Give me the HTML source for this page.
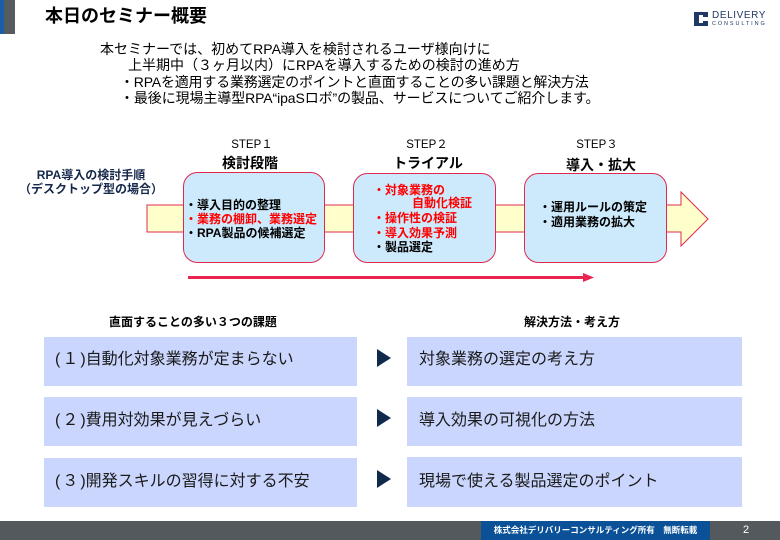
<!DOCTYPE html>
<html lang="ja">
<head>
<meta charset="utf-8">
<style>
  html,body{margin:0;padding:0;}
  body{width:780px;height:540px;position:relative;overflow:hidden;background:#fff;
    font-family:"Liberation Sans","Noto Sans CJK JP",sans-serif;color:#000;}
  .t{position:absolute;white-space:nowrap;}
  svg{position:absolute;left:0;top:0;}
</style>
</head>
<body>
<svg width="780" height="540" viewBox="0 0 780 540">
  <!-- top-left bar -->
  <rect x="0" y="0" width="4" height="34" fill="#1a5ea8"/>
  <rect x="4" y="0" width="11" height="34" fill="#565b5f"/>
  <!-- logo icon -->
  <rect x="694" y="12" width="14" height="14" fill="#1f3864"/>
  <rect x="699" y="15" width="4" height="8" fill="#fff"/>
  <rect x="703" y="17" width="5" height="4" fill="#fff"/>
  <!-- yellow band arrow -->
  <polygon points="147,205 681,205 681,192 708,219 681,246 681,232 147,232" fill="#ffffcc" stroke="#e0284f" stroke-width="1"/>
  <!-- step boxes -->
  <rect x="183.5" y="172.5" width="141" height="90" rx="14" ry="14" fill="#cdeafc" stroke="#e0284f" stroke-width="1"/>
  <rect x="353.5" y="173.5" width="142" height="89" rx="14" ry="14" fill="#cdeafc" stroke="#e0284f" stroke-width="1"/>
  <rect x="524.5" y="173.5" width="142" height="89" rx="14" ry="14" fill="#cdeafc" stroke="#e0284f" stroke-width="1"/>
  <!-- red timeline -->
  <rect x="188" y="276" width="396" height="3" fill="#e8244f"/>
  <polygon points="583,273 594,277.5 583,282" fill="#e8244f"/>
  <!-- left boxes -->
  <rect x="44" y="337" width="313" height="49" fill="#cad6fd"/>
  <rect x="44" y="397" width="313" height="49" fill="#cad6fd"/>
  <rect x="44" y="458" width="313" height="49" fill="#cad6fd"/>
  <!-- right boxes -->
  <rect x="407" y="337" width="335" height="49" fill="#cad6fd"/>
  <rect x="407" y="397" width="335" height="49" fill="#cad6fd"/>
  <rect x="407" y="457" width="335" height="50" fill="#cad6fd"/>
  <!-- triangles -->
  <polygon points="377,349 391,358 377,367" fill="#0f2a4a"/>
  <polygon points="377,409 391,418 377,427" fill="#0f2a4a"/>
  <polygon points="377,470 391,479 377,488" fill="#0f2a4a"/>
  <!-- footer -->
  <rect x="0" y="521" width="780" height="19" fill="#54595d"/>
  <rect x="481" y="521" width="229" height="19" fill="#0a5198"/>
</svg>

<!-- title -->
<div class="t" style="left:45px;top:4px;font-size:18px;line-height:24px;font-weight:bold;">本日のセミナー概要</div>

<!-- logo text -->
<div class="t" style="left:712px;top:10px;font-size:10px;line-height:12px;color:#1f3864;letter-spacing:0.6px;font-family:'Liberation Sans',sans-serif;">DELIVERY</div>
<div class="t" style="left:712px;top:21px;font-size:5.5px;line-height:6px;color:#1f3864;letter-spacing:1.9px;font-family:'Liberation Sans',sans-serif;">CONSULTING</div>

<!-- intro -->
<div class="t" style="left:100px;top:41px;font-size:14px;line-height:16px;">本セミナーでは、初めてRPA導入を検討されるユーザ様向けに</div>
<div class="t" style="left:128px;top:57px;font-size:14px;line-height:16px;">上半期中（３ヶ月以内）にRPAを導入するための検討の進め方</div>
<div class="t" style="left:120px;top:74px;font-size:14px;line-height:16px;letter-spacing:-0.2px;">・RPAを適用する業務選定のポイントと直面することの多い課題と解決方法</div>
<div class="t" style="left:120px;top:90px;font-size:14px;line-height:16px;letter-spacing:-0.1px;">・最後に現場主導型RPA“ipaSロボ”の製品、サービスについてご紹介します。</div>

<!-- left label -->
<div class="t" style="left:11px;width:160px;text-align:center;top:168px;font-size:12px;line-height:14px;font-weight:bold;color:#15284b;">RPA導入の検討手順</div>
<div class="t" style="left:11px;width:160px;text-align:center;top:182px;font-size:12px;line-height:14px;font-weight:bold;color:#15284b;">（デスクトップ型の場合）</div>

<!-- step headers -->
<div class="t" style="left:202px;width:100px;text-align:center;top:138px;font-size:11.5px;line-height:14px;">STEP１</div>
<div class="t" style="left:200px;width:100px;text-align:center;top:154px;font-size:14px;line-height:18px;font-weight:bold;">検討段階</div>
<div class="t" style="left:377px;width:100px;text-align:center;top:138px;font-size:11.5px;line-height:14px;">STEP２</div>
<div class="t" style="left:378px;width:100px;text-align:center;top:154px;font-size:14px;line-height:18px;font-weight:bold;">トライアル</div>
<div class="t" style="left:547px;width:100px;text-align:center;top:138px;font-size:11.5px;line-height:14px;">STEP３</div>
<div class="t" style="left:551px;width:100px;text-align:center;top:156px;font-size:14px;line-height:18px;font-weight:bold;">導入・拡大</div>

<!-- box 1 -->
<div class="t" style="left:185px;top:198px;font-size:12px;line-height:14px;font-weight:bold;">・導入目的の整理</div>
<div class="t" style="left:185px;top:212px;font-size:12px;line-height:14px;font-weight:bold;color:#ff0000;">・業務の棚卸、業務選定</div>
<div class="t" style="left:185px;top:226px;font-size:12px;line-height:14px;font-weight:bold;">・RPA製品の候補選定</div>

<!-- box 2 -->
<div class="t" style="left:373px;top:183px;font-size:12px;line-height:14px;font-weight:bold;color:#ff0000;">・対象業務の</div>
<div class="t" style="left:412px;top:196px;font-size:12px;line-height:14px;font-weight:bold;color:#ff0000;">自動化検証</div>
<div class="t" style="left:373px;top:211px;font-size:12px;line-height:14px;font-weight:bold;color:#ff0000;">・操作性の検証</div>
<div class="t" style="left:373px;top:226px;font-size:12px;line-height:14px;font-weight:bold;color:#ff0000;">・導入効果予測</div>
<div class="t" style="left:373px;top:240px;font-size:12px;line-height:14px;font-weight:bold;">・製品選定</div>

<!-- box 3 -->
<div class="t" style="left:539px;top:200px;font-size:12px;line-height:14px;font-weight:bold;">・運用ルールの策定</div>
<div class="t" style="left:539px;top:215px;font-size:12px;line-height:14px;font-weight:bold;">・適用業務の拡大</div>

<!-- bottom headings -->
<div class="t" style="left:109px;top:315px;font-size:12px;line-height:14px;font-weight:bold;">直面することの多い３つの課題</div>
<div class="t" style="left:524px;top:315px;font-size:12px;line-height:14px;font-weight:bold;">解決方法・考え方</div>

<!-- left boxes text -->
<div class="t" style="left:55px;top:350px;font-size:16px;line-height:20px;color:#1a1a1a;">(<span style="padding:0 2px;">１</span>)自動化対象業務が定まらない</div>
<div class="t" style="left:55px;top:411px;font-size:16px;line-height:20px;color:#1a1a1a;">(<span style="padding:0 2px;">２</span>)費用対効果が見えづらい</div>
<div class="t" style="left:55px;top:472px;font-size:16px;line-height:20px;color:#1a1a1a;">(<span style="padding:0 2px;">３</span>)開発スキルの習得に対する不安</div>

<!-- right boxes text -->
<div class="t" style="left:419px;top:350px;font-size:16px;line-height:20px;color:#1a1a1a;">対象業務の選定の考え方</div>
<div class="t" style="left:419px;top:411px;font-size:16px;line-height:20px;color:#1a1a1a;">導入効果の可視化の方法</div>
<div class="t" style="left:419px;top:472px;font-size:16px;line-height:20px;color:#1a1a1a;">現場で使える製品選定のポイント</div>

<!-- footer text -->
<div class="t" style="left:481px;width:229px;text-align:center;top:524px;font-size:8.5px;line-height:12px;font-weight:bold;color:#fff;">株式会社デリバリーコンサルティング所有　無断転載</div>
<div class="t" style="left:743px;top:523px;font-size:11px;line-height:14px;color:#fff;">2</div>
</body>
</html>
